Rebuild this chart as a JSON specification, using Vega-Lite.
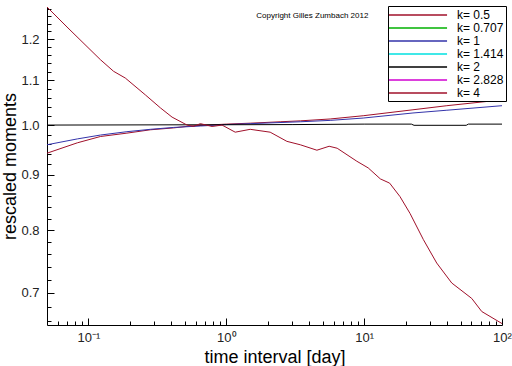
{
  "$schema": "https://vega.github.io/schema/vega-lite/v6.json",
  "width": 455,
  "height": 318,
  "autosize": {"type": "none"},
  "padding": {"left": 47, "top": 7, "right": 10, "bottom": 41},
  "background": "white",
  "config": {
    "font": "Liberation Sans",
    "view": {"stroke": null},
    "axis": {"grid": false, "domainColor": "black", "tickColor": "black", "labelColor": "#222", "titleColor": "black", "labelFont": "Liberation Sans", "titleFont": "Liberation Sans", "titleFontWeight": "normal"}
  },
  "datasets": {
    "curves": [
      {"k": "k= 0.5", "t": 0.05, "m": 0.942},
      {"k": "k= 0.5", "t": 0.083, "m": 0.963},
      {"k": "k= 0.5", "t": 0.122, "m": 0.976},
      {"k": "k= 0.5", "t": 0.19, "m": 0.983},
      {"k": "k= 0.5", "t": 0.281, "m": 0.99},
      {"k": "k= 0.5", "t": 0.415, "m": 0.994},
      {"k": "k= 0.5", "t": 0.548, "m": 0.998},
      {"k": "k= 0.5", "t": 1, "m": 1.002},
      {"k": "k= 0.5", "t": 1.49, "m": 1.004},
      {"k": "k= 0.5", "t": 2.46, "m": 1.007},
      {"k": "k= 0.5", "t": 3.44, "m": 1.009},
      {"k": "k= 0.5", "t": 5.67, "m": 1.013},
      {"k": "k= 0.5", "t": 9.84, "m": 1.02},
      {"k": "k= 0.5", "t": 22.6, "m": 1.033},
      {"k": "k= 0.5", "t": 39.8, "m": 1.042},
      {"k": "k= 0.5", "t": 100, "m": 1.055},
      {"k": "k= 1", "t": 0.05, "m": 0.959},
      {"k": "k= 1", "t": 0.083, "m": 0.971},
      {"k": "k= 1", "t": 0.122, "m": 0.979},
      {"k": "k= 1", "t": 0.19, "m": 0.986},
      {"k": "k= 1", "t": 0.281, "m": 0.991},
      {"k": "k= 1", "t": 0.415, "m": 0.995},
      {"k": "k= 1", "t": 0.648, "m": 0.998},
      {"k": "k= 1", "t": 1, "m": 1.001},
      {"k": "k= 1", "t": 1.49, "m": 1.003},
      {"k": "k= 1", "t": 3.44, "m": 1.007},
      {"k": "k= 1", "t": 5.67, "m": 1.01},
      {"k": "k= 1", "t": 9.84, "m": 1.015},
      {"k": "k= 1", "t": 22.6, "m": 1.026},
      {"k": "k= 1", "t": 39.8, "m": 1.032},
      {"k": "k= 1", "t": 100, "m": 1.042},
      {"k": "k= 2", "t": 0.05, "m": 1.0},
      {"k": "k= 2", "t": 3, "m": 1.001},
      {"k": "k= 2", "t": 10, "m": 1.002},
      {"k": "k= 2", "t": 22, "m": 1.002},
      {"k": "k= 2", "t": 23, "m": 0.9995},
      {"k": "k= 2", "t": 55, "m": 0.9995},
      {"k": "k= 2", "t": 57, "m": 1.002},
      {"k": "k= 2", "t": 100, "m": 1.002},
      {"k": "k= 4", "t": 0.05, "m": 1.285},
      {"k": "k= 4", "t": 0.071, "m": 1.229},
      {"k": "k= 4", "t": 0.122, "m": 1.149},
      {"k": "k= 4", "t": 0.152, "m": 1.121},
      {"k": "k= 4", "t": 0.185, "m": 1.105},
      {"k": "k= 4", "t": 0.259, "m": 1.066},
      {"k": "k= 4", "t": 0.333, "m": 1.037},
      {"k": "k= 4", "t": 0.404, "m": 1.017},
      {"k": "k= 4", "t": 0.519, "m": 1.0},
      {"k": "k= 4", "t": 0.577, "m": 0.997},
      {"k": "k= 4", "t": 0.648, "m": 1.003},
      {"k": "k= 4", "t": 0.788, "m": 0.997},
      {"k": "k= 4", "t": 0.931, "m": 1.0},
      {"k": "k= 4", "t": 1.16, "m": 0.985},
      {"k": "k= 4", "t": 1.49, "m": 0.991},
      {"k": "k= 4", "t": 2.08, "m": 0.985},
      {"k": "k= 4", "t": 2.75, "m": 0.966},
      {"k": "k= 4", "t": 3.44, "m": 0.959},
      {"k": "k= 4", "t": 4.54, "m": 0.948},
      {"k": "k= 4", "t": 5.57, "m": 0.956},
      {"k": "k= 4", "t": 6.37, "m": 0.952},
      {"k": "k= 4", "t": 8.85, "m": 0.926},
      {"k": "k= 4", "t": 10.7, "m": 0.913},
      {"k": "k= 4", "t": 13.1, "m": 0.892},
      {"k": "k= 4", "t": 15.3, "m": 0.884},
      {"k": "k= 4", "t": 18.2, "m": 0.859},
      {"k": "k= 4", "t": 21.5, "m": 0.829},
      {"k": "k= 4", "t": 26.9, "m": 0.784},
      {"k": "k= 4", "t": 33.6, "m": 0.746},
      {"k": "k= 4", "t": 43.2, "m": 0.715},
      {"k": "k= 4", "t": 60.3, "m": 0.692},
      {"k": "k= 4", "t": 71.3, "m": 0.673},
      {"k": "k= 4", "t": 100, "m": 0.656}
    ],
    "notes": [{"label": "Copyright Gilles Zumbach 2012"}]
  },
  "layer": [
    {
      "data": {"name": "curves"},
      "mark": {"type": "line", "strokeWidth": 1, "clip": true},
      "encoding": {
        "x": {
          "field": "t", "type": "quantitative",
          "scale": {"type": "log", "domain": [0.05, 100], "nice": false},
          "axis": {
            "orient": "bottom",
            "values": [0.1, 1, 10, 100],
            "labelExpr": "datum.value < 0.5 ? '10⁻¹' : datum.value < 5 ? '10⁰' : datum.value < 50 ? '10¹' : '10²'",
            "tickSize": -7, "labelPadding": 13, "labelFontSize": 13, "labelFlush": false,
            "title": "time interval [day]", "titleFontSize": 18
          }
        },
        "y": {
          "field": "m", "type": "quantitative",
          "scale": {"type": "log", "domain": [0.654, 1.285], "nice": false, "zero": false},
          "axis": {
            "orient": "left",
            "values": [0.7, 0.8, 0.9, 1.0, 1.1, 1.2],
            "format": ".1f",
            "tickSize": -7, "labelPadding": 15, "labelFontSize": 13,
            "title": "rescaled moments", "titleFontSize": 18, "titlePadding": 1
          }
        },
        "color": {
          "field": "k", "type": "nominal",
          "scale": {
            "domain": ["k= 0.5", "k= 0.707", "k= 1", "k= 1.414", "k= 2", "k= 2.828", "k= 4"],
            "range": ["#a0102a", "#00b000", "#3333aa", "#00e0e0", "#000000", "#d000d0", "#a0102a"]
          },
          "legend": {
            "orient": "none", "legendX": 341, "legendY": -1,
            "title": null, "symbolType": "M-5,0H5", "symbolSize": 135, "symbolStrokeWidth": 1.5,
            "symbolOffset": 21,
            "labelFontSize": 12, "labelFont": "Liberation Sans", "labelColor": "black",
            "strokeColor": "black", "fillColor": "white", "padding": 2, "rowPadding": 0, "labelOffset": 32
          }
        }
      }
    },
    {
      "data": {"name": "notes"},
      "mark": {"type": "text", "fontSize": 8, "align": "left", "baseline": "middle", "color": "black"},
      "encoding": {
        "x": {
          "datum": 1.65, "type": "quantitative",
          "axis": {
            "orient": "bottom",
            "values": [0.06, 0.07, 0.08, 0.09, 0.2, 0.3, 0.4, 0.5, 0.6, 0.7, 0.8, 0.9, 2, 3, 4, 5, 6, 7, 8, 9, 20, 30, 40, 50, 60, 70, 80, 90],
            "labels": false, "domain": false, "tickSize": -4, "title": null
          }
        },
        "y": {
          "datum": 1.261, "type": "quantitative",
          "axis": {
            "orient": "left",
            "values": [0.66, 0.68, 0.72, 0.74, 0.76, 0.78, 0.82, 0.84, 0.86, 0.88, 0.92, 0.94, 0.96, 0.98, 1.02, 1.04, 1.06, 1.08, 1.12, 1.14, 1.16, 1.18, 1.22, 1.24, 1.26, 1.28],
            "labels": false, "domain": false, "tickSize": -4, "title": null
          }
        },
        "text": {"field": "label"}
      }
    }
  ],
  "resolve": {"axis": {"x": "independent", "y": "independent"}}
}
